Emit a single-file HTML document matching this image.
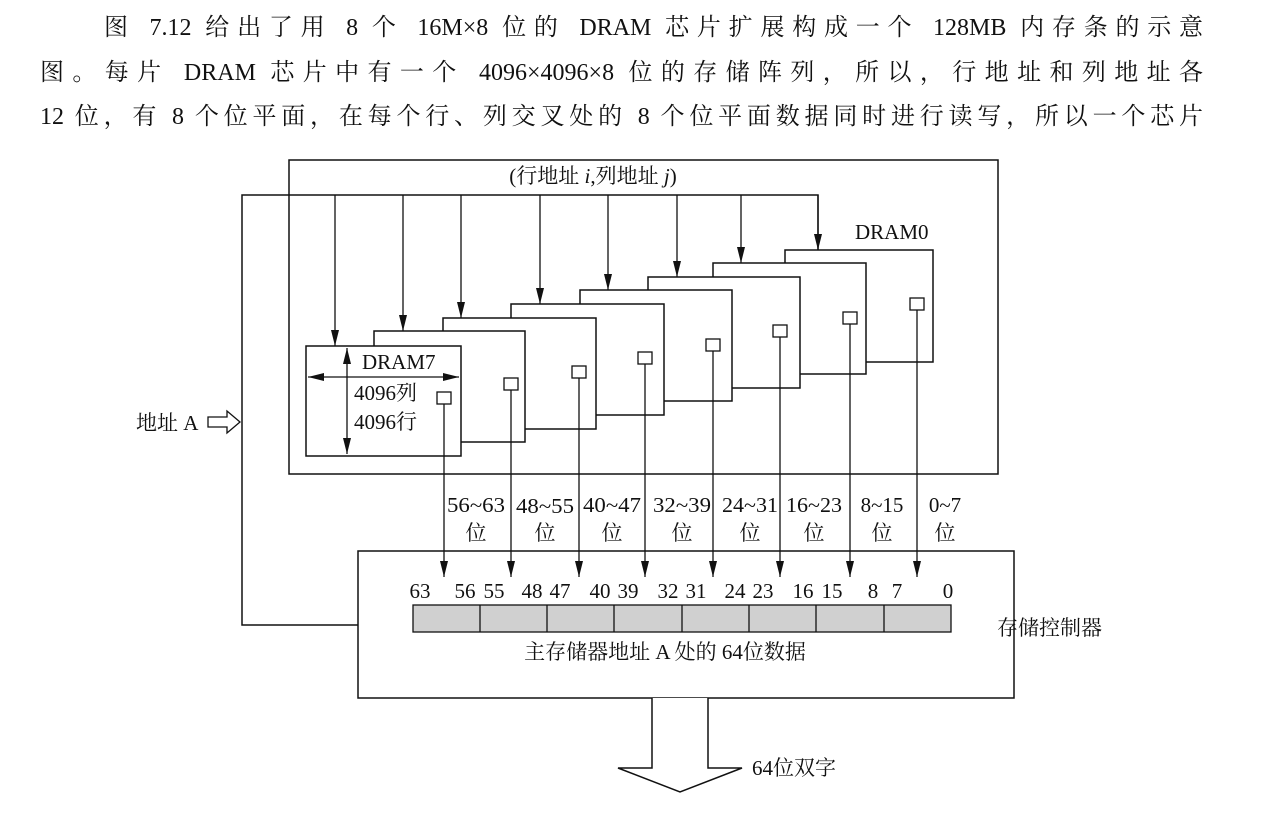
<!DOCTYPE html>
<html><head><meta charset="utf-8"><style>
body{margin:0;background:#fff;width:1281px;height:818px;overflow:hidden;position:relative;font-family:"Liberation Serif","Noto Serif CJK SC",serif;}
.l{position:absolute;font-size:24px;line-height:30px;text-align:justify;text-align-last:justify;color:#111;white-space:nowrap;}
svg{position:absolute;left:0;top:0}
svg text{font-family:"Liberation Serif","Noto Serif CJK SC",serif;font-size:21px;fill:#111}
</style></head><body>
<div class="l" style="left:104px;top:13px;width:1099px;">图 7.12 给出了用 8 个 16M×8 位的 DRAM 芯片扩展构成一个 128MB 内存条的示意</div>
<div class="l" style="left:40px;top:58px;width:1163px;">图。每片 DRAM 芯片中有一个 4096×4096×8 位的存储阵列，所以，行地址和列地址各</div>
<div class="l" style="left:40px;top:102px;width:1163px;">12 位，有 8 个位平面，在每个行、列交叉处的 8 个位平面数据同时进行读写，所以一个芯片</div>
<svg width="1281" height="818" viewBox="0 0 1281 818">
<defs>
<marker id="h" viewBox="0 0 16 8" markerWidth="16" markerHeight="8" refX="16" refY="4" orient="auto-start-reverse" markerUnits="userSpaceOnUse"><path d="M0,0 L16,4 L0,8z" fill="#111"/></marker>
</defs>
<g stroke="#111" stroke-width="1.5" fill="none">
<rect x="289" y="160" width="709" height="314"/>
<polyline points="818,250 818,195 242,195 242,625 358,625" />
</g>
<text x="593" y="183" text-anchor="middle">(行地址 <tspan font-style="italic">i</tspan>,列地址 <tspan font-style="italic">j</tspan>)</text>
<text x="855" y="239">DRAM0</text>
<g stroke="#111" stroke-width="1.5" fill="#fff">
<rect x="785" y="250" width="148" height="112"/>
<rect x="713" y="263" width="153" height="111"/>
<rect x="648" y="277" width="152" height="111"/>
<rect x="580" y="290" width="152" height="111"/>
<rect x="511" y="304" width="153" height="111"/>
<rect x="443" y="318" width="153" height="111"/>
<rect x="374" y="331" width="151" height="111"/>
<rect x="306" y="346" width="155" height="110"/>
</g>
<g stroke="#111" stroke-width="1.3">
<line x1="335" y1="195" x2="335" y2="346" marker-end="url(#h)"/>
<line x1="403" y1="195" x2="403" y2="331" marker-end="url(#h)"/>
<line x1="461" y1="195" x2="461" y2="318" marker-end="url(#h)"/>
<line x1="540" y1="195" x2="540" y2="304" marker-end="url(#h)"/>
<line x1="608" y1="195" x2="608" y2="290" marker-end="url(#h)"/>
<line x1="677" y1="195" x2="677" y2="277" marker-end="url(#h)"/>
<line x1="741" y1="195" x2="741" y2="263" marker-end="url(#h)"/>
<line x1="818" y1="195" x2="818" y2="250" marker-end="url(#h)"/>
<line x1="347" y1="348" x2="347" y2="454" marker-start="url(#h)" marker-end="url(#h)"/>
<line x1="308" y1="377" x2="459" y2="377" marker-start="url(#h)" marker-end="url(#h)"/>
</g>
<text x="362" y="369">DRAM7</text>
<text x="354" y="400">4096列</text>
<text x="354" y="429">4096行</text>
<g stroke="#111" stroke-width="1.3" fill="#fff">
<line x1="444" y1="404" x2="444" y2="577" marker-end="url(#h)"/>
<line x1="511" y1="390" x2="511" y2="577" marker-end="url(#h)"/>
<line x1="579" y1="378" x2="579" y2="577" marker-end="url(#h)"/>
<line x1="645" y1="364" x2="645" y2="577" marker-end="url(#h)"/>
<line x1="713" y1="351" x2="713" y2="577" marker-end="url(#h)"/>
<line x1="780" y1="337" x2="780" y2="577" marker-end="url(#h)"/>
<line x1="850" y1="324" x2="850" y2="577" marker-end="url(#h)"/>
<line x1="917" y1="310" x2="917" y2="577" marker-end="url(#h)"/>
<rect x="437" y="392" width="14" height="12"/>
<rect x="504" y="378" width="14" height="12"/>
<rect x="572" y="366" width="14" height="12"/>
<rect x="638" y="352" width="14" height="12"/>
<rect x="706" y="339" width="14" height="12"/>
<rect x="773" y="325" width="14" height="12"/>
<rect x="843" y="312" width="14" height="12"/>
<rect x="910" y="298" width="14" height="12"/>
</g>
<g text-anchor="middle" font-size="22">
<text x="476" y="512" textLength="58" lengthAdjust="spacingAndGlyphs">56~63</text><text x="476" y="540">位</text>
<text x="545" y="513" textLength="58" lengthAdjust="spacingAndGlyphs">48~55</text><text x="545" y="540">位</text>
<text x="612" y="512" textLength="58" lengthAdjust="spacingAndGlyphs">40~47</text><text x="612" y="540">位</text>
<text x="682" y="512" textLength="58" lengthAdjust="spacingAndGlyphs">32~39</text><text x="682" y="540">位</text>
<text x="750" y="512" textLength="56" lengthAdjust="spacingAndGlyphs">24~31</text><text x="750" y="540">位</text>
<text x="814" y="512" textLength="56" lengthAdjust="spacingAndGlyphs">16~23</text><text x="814" y="540">位</text>
<text x="882" y="512">8~15</text><text x="882" y="540">位</text>
<text x="945" y="512">0~7</text><text x="945" y="540">位</text>
</g>
<rect x="358" y="551" width="656" height="147" fill="none" stroke="#111" stroke-width="1.5"/>
<g text-anchor="middle">
<text x="420" y="598">63</text><text x="465" y="598">56</text><text x="494" y="598">55</text><text x="532" y="598">48</text><text x="560" y="598">47</text><text x="600" y="598">40</text><text x="628" y="598">39</text><text x="668" y="598">32</text><text x="696" y="598">31</text><text x="735" y="598">24</text><text x="763" y="598">23</text><text x="803" y="598">16</text><text x="832" y="598">15</text><text x="873" y="598">8</text><text x="897" y="598">7</text><text x="948" y="598">0</text>
</g>
<rect x="413" y="605" width="538" height="27" fill="#d0d0d0" stroke="#111" stroke-width="1.3"/>
<g stroke="#111" stroke-width="1.3">
<line x1="480" y1="605" x2="480" y2="632"/><line x1="547" y1="605" x2="547" y2="632"/><line x1="614" y1="605" x2="614" y2="632"/><line x1="682" y1="605" x2="682" y2="632"/><line x1="749" y1="605" x2="749" y2="632"/><line x1="816" y1="605" x2="816" y2="632"/><line x1="884" y1="605" x2="884" y2="632"/>
</g>
<text x="665" y="659" text-anchor="middle" font-size="22">主存储器地址 A 处的 64位数据</text>
<text x="997" y="635" font-size="22">存储控制器</text>
<polyline points="652,698 652,768 618,768 680,792 742,768 708,768 708,698" fill="#fff" stroke="#111" stroke-width="1.5"/>
<text x="752" y="775" font-size="22">64位双字</text>
<text x="136" y="430" font-size="22">地址 A</text>
<polygon points="208,417 227,417 227,411 240,422 227,433 227,427 208,427" fill="#fff" stroke="#111" stroke-width="1.3"/>
</svg>
</body></html>
